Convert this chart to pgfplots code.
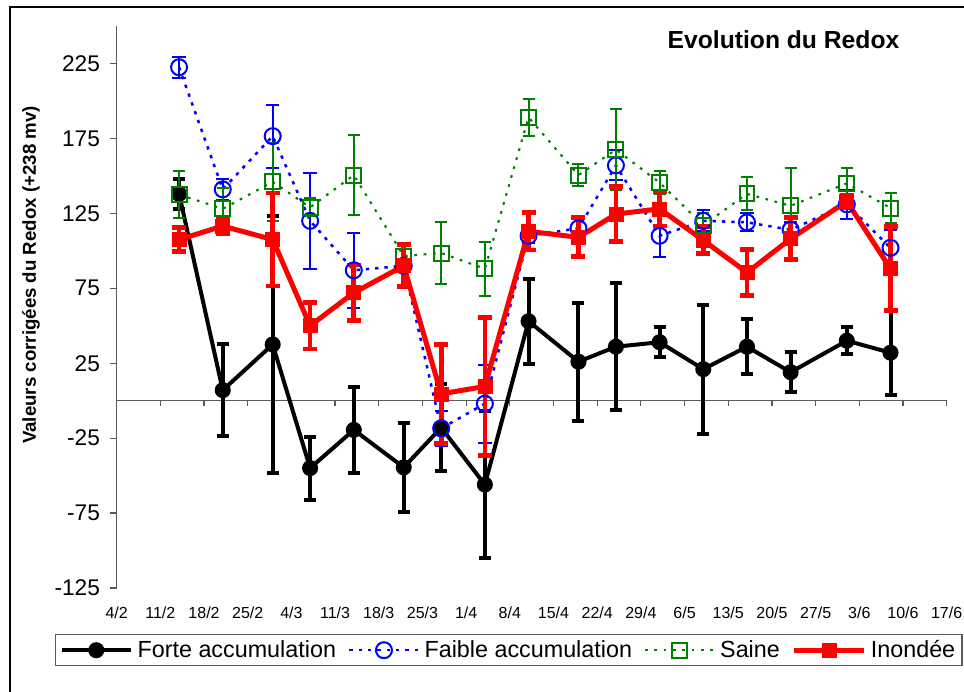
\documentclass[border=0pt]{standalone}
\usepackage{fontspec}
\setmainfont{Liberation Sans}
\usepackage{pgfplots}
\pgfplotsset{compat=1.18}
\definecolor{sgreen}{RGB}{0,128,0}
\definecolor{sblue}{RGB}{0,0,255}
\definecolor{sred}{RGB}{255,0,0}
\definecolor{axgray}{RGB}{90,90,90}

\pgfplotstableread{
x y e
10 138 10
17 7 30.5
25 37.5 86
31 -45 21
38 -19.5 28.5
46 -44.5 29.5
52 -18 29
59 -56 49
66 53 28.5
74 26 39.5
80 36 42.5
87 39 10
94 21 43
101 36 18.5
108 19 13.5
117 40 9
124 32 28
}\forte
\pgfplotstableread{
x y e
10 222.5 7
17 141 7
25 176.5 21
31 120 32
38 87 25
46 90 4
52 -18.5 11.5
59 -2 26
66 110 5
74 115 8
80 157 10
87 110 14
94 120 7
101 119 6
108 114 5
117 131 9.5
124 102 12
}\faible
\pgfplotstableread{
x y e
10 137.5 15.5
17 128 14
25 146 26
31 129 6
38 150.5 26.5
46 96.5 9
52 98.5 20.5
59 88 18
66 189 12.5
74 150.5 7.5
80 167.5 27
87 145.5 7.5
94 117 8
101 138 11
108 130 25
117 145 10
124 128.5 10
}\saine
\pgfplotstableread{
x y e
10 107.5 8
17 116.5 5
25 107.5 31
31 50 15.5
38 72 18.5
46 90 14
52 4.5 33
59 9.5 46
66 113 12.5
74 109 13
80 124.5 18.5
87 128 11.5
94 107 9
101 85.5 15.5
108 108 14
117 133 4
124 88 28
}\inondee

\begin{document}
\begin{tikzpicture}
\useasboundingbox (-87.5pt,-78pt) rectangle (635.5pt,441pt);
\draw[line width=1pt] (-80pt,-90pt) -- (-80pt,435.75pt) -- (650pt,435.75pt);
\begin{axis}[
  at={(0pt,0pt)}, anchor=south west,
  scale only axis, width=622.5pt, height=421.5pt,
  xmin=0, xmax=133, ymin=-125, ymax=250,
  axis y line*=left, axis x line*=bottom,
  x axis line style={draw=none},
  y axis line style={axgray, line width=0.9pt},
  ytick={-125,-75,-25,25,75,125,175,225},
  xtick={0,7,...,133},
  xticklabels={4/2,11/2,18/2,25/2,4/3,11/3,18/3,25/3,1/4,8/4,15/4,22/4,29/4,6/5,13/5,20/5,27/5,3/6,10/6,17/6},
  tick align=outside,
  major tick length=5pt,
  xtick style={draw=none},
  ytick style={axgray, line width=0.9pt},
  /pgf/number format/assume math mode=true,
  yticklabel style={font=\fontsize{17}{20}\selectfont, xshift=-4pt},
  xticklabel style={font=\fontsize{12}{14}\selectfont, yshift=-6pt},
  clip=false,
  legend columns=4,
  legend style={at={(axis description cs:-0.0743,-0.0819)}, anchor=north west,
    draw=axgray, line width=0.9pt, inner xsep=3pt, inner ysep=2.5pt,
    font=\fontsize{17.5}{20}\selectfont,
    /tikz/every odd column/.append style={column sep=1.5pt},
    /tikz/every even column/.append style={column sep=7pt}},
  legend cell align=left,
  legend image code/.code={\draw[mark repeat=2,mark phase=2,#1] plot coordinates {(0pt,0pt) (26pt,0pt) (52pt,0pt)};},
]
\draw[axgray, line width=0.9pt] (axis cs:0,0) -- (axis cs:133,0);
\pgfplotsinvokeforeach{0,7,14,21,28,35,42,49,56,63,70,77,84,91,98,105,112,119,126,133}{
  \draw[axgray, line width=0.9pt] (axis cs:#1,0) -- ([yshift=-4pt]axis cs:#1,0);
}

\addplot[black, line width=3pt, mark=*, mark size=4.5pt, mark options={solid},
  error bars/.cd, y dir=both, y explicit, error mark=|,
  error bar style={line width=3pt, solid},
  error mark options={line width=3pt, mark size=4.5pt, solid}]
  table[x=x, y=y, y error=e] {\forte};
\addlegendentry{Forte accumulation}

\addplot[sblue, line width=1.9pt, dash pattern=on 2.5pt off 4.5pt, mark=o, mark size=6pt, mark options={solid, line width=1.5pt},
  error bars/.cd, y dir=both, y explicit, error mark=|,
  error bar style={line width=1.5pt, solid},
  error mark options={line width=1.5pt, mark size=5pt, solid}]
  table[x=x, y=y, y error=e] {\faible};
\addlegendentry{Faible accumulation}

\addplot[sgreen, line width=1.6pt, dash pattern=on 2pt off 5pt, mark=square, mark size=5.6pt, mark options={solid, line width=1.5pt},
  error bars/.cd, y dir=both, y explicit, error mark=|,
  error bar style={line width=1.5pt, solid},
  error mark options={line width=1.5pt, mark size=4.5pt, solid}]
  table[x=x, y=y, y error=e] {\saine};
\addlegendentry{Saine}

\addplot[sred, line width=3.75pt, mark=square*, mark size=5.25pt, mark options={solid, line width=0.5pt},
  error bars/.cd, y dir=both, y explicit, error mark=|,
  error bar style={line width=3.5pt, solid},
  error mark options={line width=3.5pt, mark size=5.25pt, solid}]
  table[x=x, y=y, y error=e] {\inondee};
\addlegendentry{Inondée}
\end{axis}
\node[anchor=base east, font=\fontsize{18.5}{22}\selectfont\bfseries] at (590.5pt,404.25pt) {Evolution du Redox};
\node[rotate=90, font=\fontsize{14}{17}\selectfont\bfseries] at (-64.3pt,234.75pt) {Valeurs corrigées du Redox (+238 mv)};
\end{tikzpicture}
\end{document}
